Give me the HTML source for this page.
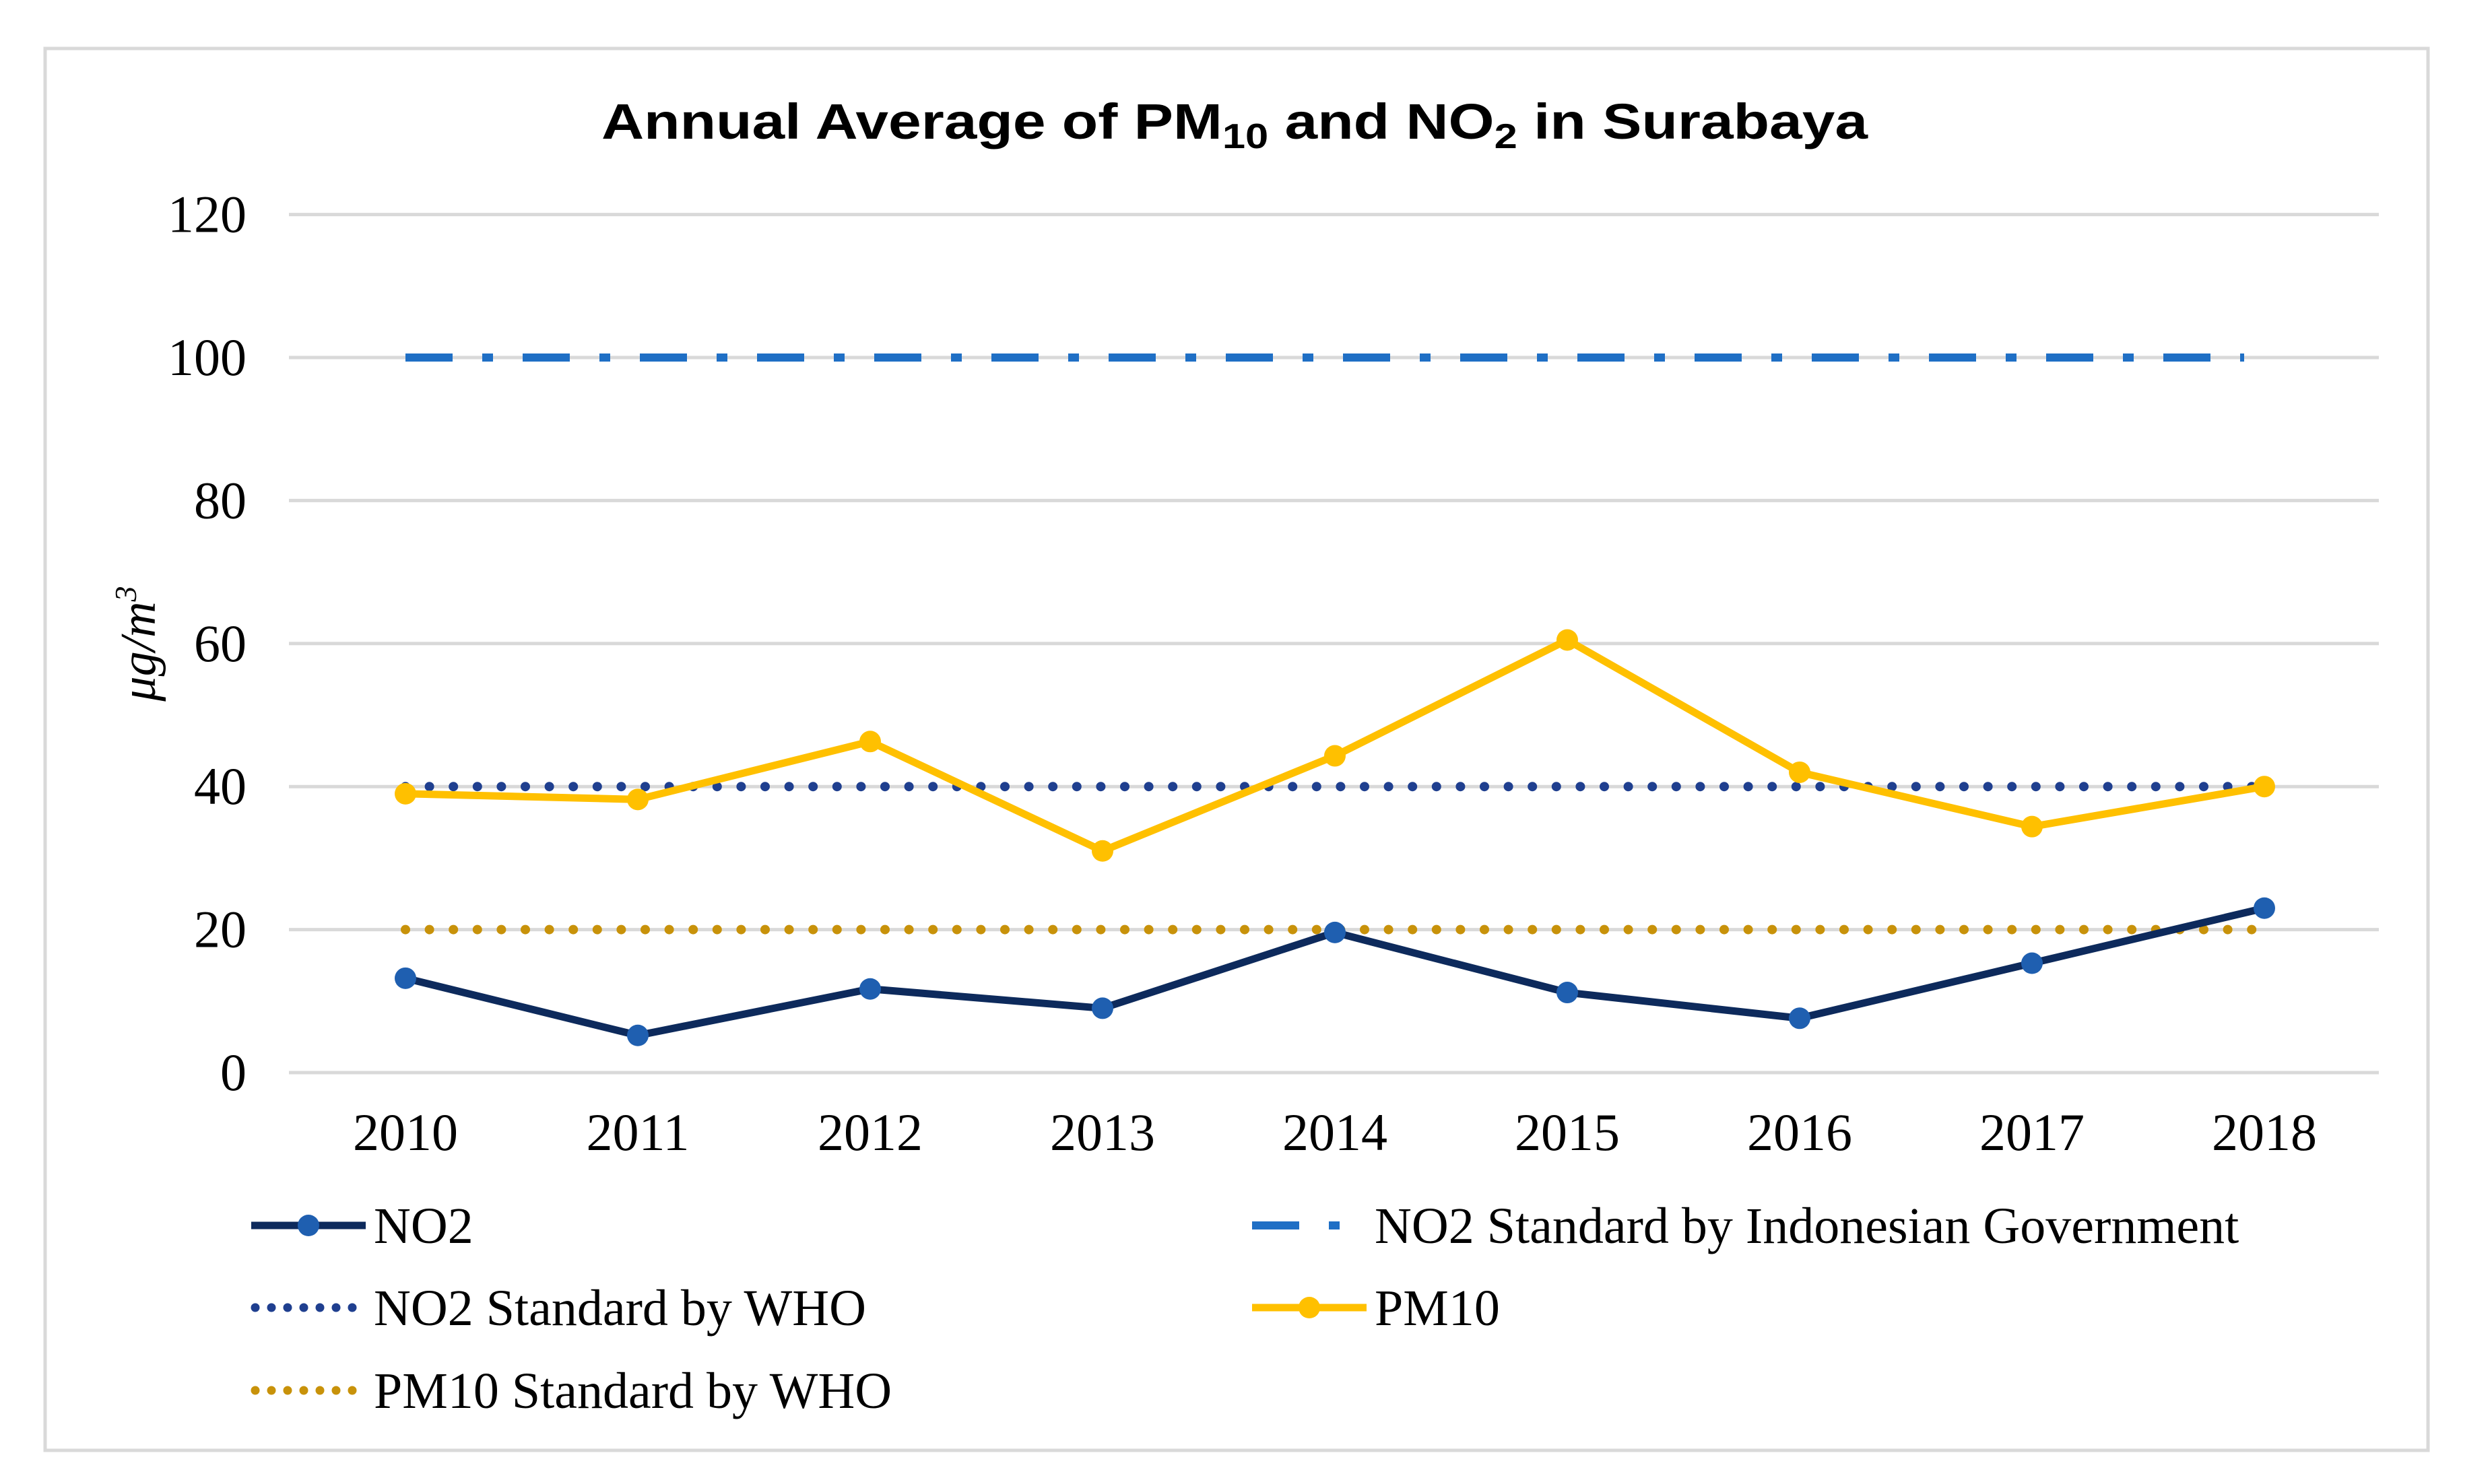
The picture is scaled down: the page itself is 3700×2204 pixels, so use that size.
<!DOCTYPE html>
<html><head><meta charset="utf-8"><style>
html,body{margin:0;padding:0;background:#fff;}
svg{display:block;}
</style></head><body>
<svg id="chart" width="3700" height="2204" viewBox="0 0 3700 2204" xmlns="http://www.w3.org/2000/svg">
<rect x="67" y="72" width="3538" height="2082" fill="#fff" stroke="#d9d9d9" stroke-width="5"/>
<text x="1833" y="206" text-anchor="middle" font-family="Liberation Sans, sans-serif" font-weight="bold" font-size="74" fill="#000" textLength="1880" lengthAdjust="spacingAndGlyphs">Annual Average of PM<tspan font-size="52" dy="14">10</tspan><tspan dy="-14"> and NO</tspan><tspan font-size="52" dy="14">2</tspan><tspan dy="-14"> in Surabaya</tspan></text>
<text transform="translate(230,956) rotate(-90)" text-anchor="middle" font-family="Liberation Serif, serif" font-style="italic" font-size="74" fill="#000">μg/m<tspan font-size="46" dy="-28">3</tspan></text>
<g id="grid"></g><g id="ylabels"></g><g id="xlabels"></g><g id="series"></g>
<g id="legend"></g>
</svg>
<script>
const years = ["2010","2011","2012","2013","2014","2015","2016","2017","2018"];
const no2Values = [13.2, 5.2, 11.7, 9.0, 19.6, 11.2, 7.6, 15.3, 23.0];
const pm10Values = [39.0, 38.2, 46.3, 31.0, 44.3, 60.5, 42.0, 34.4, 40.0];
const no2GovStandard = 100;
const no2WhoStandard = 40;
const pm10WhoStandard = 20;
const yTicks = [0, 20, 40, 60, 80, 100, 120];

const NS = "http://www.w3.org/2000/svg";
const X0 = 602, XSTEP = 345, Y0 = 1593, YSCALE = 10.62;
const GL = 429, GR = 3532;
function xs(i){ return X0 + i * XSTEP; }
function ys(v){ return Y0 - v * YSCALE; }
function mk(tag, attrs, parent){
  const e = document.createElementNS(NS, tag);
  for (const k in attrs) e.setAttribute(k, attrs[k]);
  parent.appendChild(e); return e;
}
const grid = document.getElementById('grid');
const yl = document.getElementById('ylabels');
const xl = document.getElementById('xlabels');
const ser = document.getElementById('series');
const leg = document.getElementById('legend');

yTicks.forEach(t => {
  const l = mk('line', {x1: GL, x2: GR, y1: ys(t), y2: ys(t), stroke: '#d9d9d9', 'stroke-width': 5}, grid);
  
  
  const tx = mk('text', {x: 366, y: ys(t) + 26, 'text-anchor': 'end', 'font-family': 'Liberation Serif, serif', 'font-size': 78, fill: '#000'}, yl);
  tx.textContent = t;
  
  
});
years.forEach((y, i) => {
  const tx = mk('text', {x: xs(i), y: 1708, 'text-anchor': 'middle', 'font-family': 'Liberation Serif, serif', 'font-size': 78, fill: '#000'}, xl);
  tx.textContent = y;
  
  
});

const last = years.length - 1;
const gov = mk('line', {x1: xs(0), x2: xs(last) - 30, y1: ys(no2GovStandard), y2: ys(no2GovStandard), stroke: '#1f6fc5', 'stroke-width': 12, 'stroke-dasharray': '70 44 16 44'}, ser);


const who = mk('line', {x1: xs(0), x2: xs(last), y1: ys(no2WhoStandard), y2: ys(no2WhoStandard), stroke: '#1f3f8f', 'stroke-width': 14, 'stroke-linecap': 'round', 'stroke-dasharray': '0 35.6'}, ser);


const pwho = mk('line', {x1: xs(0), x2: xs(last), y1: ys(pm10WhoStandard), y2: ys(pm10WhoStandard), stroke: '#c8920a', 'stroke-width': 14, 'stroke-linecap': 'round', 'stroke-dasharray': '0 35.6'}, ser);



function series(vals, lineColor, markColor, name){
  const pts = vals.map((v, i) => xs(i) + ',' + ys(v)).join(' ');
  const pl = mk('polyline', {points: pts, fill: 'none', stroke: lineColor, 'stroke-width': 11, 'stroke-linejoin': 'round'}, ser);
  
  
  vals.forEach((v, i) => {
    const c = mk('circle', {cx: xs(i), cy: ys(v), r: 16, fill: markColor}, ser);
    
    
  });
}
series(pm10Values, '#ffc000', '#ffc000', 'pm10');
series(no2Values, '#0d2a5c', '#1f5fb0', 'no2');

function legendEntry(x, y, type, label, name){
  const g = mk('g', {}, leg);
  
  
  if (type === 'solid-no2') {
    mk('line', {x1: x, x2: x + 170, y1: y, y2: y, stroke: '#0d2a5c', 'stroke-width': 11}, g);
    mk('circle', {cx: x + 85, cy: y, r: 16, fill: '#1f5fb0'}, g);
  } else if (type === 'solid-pm10') {
    mk('line', {x1: x, x2: x + 170, y1: y, y2: y, stroke: '#ffc000', 'stroke-width': 11}, g);
    mk('circle', {cx: x + 85, cy: y, r: 16, fill: '#ffc000'}, g);
  } else if (type === 'dashdot') {
    mk('line', {x1: x, x2: x + 170, y1: y, y2: y, stroke: '#1f6fc5', 'stroke-width': 12, 'stroke-dasharray': '70 44 16 44'}, g);
  } else {
    mk('line', {x1: x + 6, x2: x + 170, y1: y, y2: y, stroke: type, 'stroke-width': 13, 'stroke-linecap': 'round', 'stroke-dasharray': '0 24'}, g);
  }
  const t = mk('text', {x: x + 182, y: y + 26, 'font-family': 'Liberation Serif, serif', 'font-size': 76, fill: '#000'}, g);
  t.textContent = label;
}
legendEntry(373, 1820, 'solid-no2', 'NO2', 'no2');
legendEntry(1859, 1820, 'dashdot', 'NO2 Standard by Indonesian Government', 'no2-government');
legendEntry(373, 1942, '#1f3f8f', 'NO2 Standard by WHO', 'no2-who');
legendEntry(1859, 1942, 'solid-pm10', 'PM10', 'pm10');
legendEntry(373, 2065, '#c8920a', 'PM10 Standard by WHO', 'pm10-who');
</script>
</body></html>
